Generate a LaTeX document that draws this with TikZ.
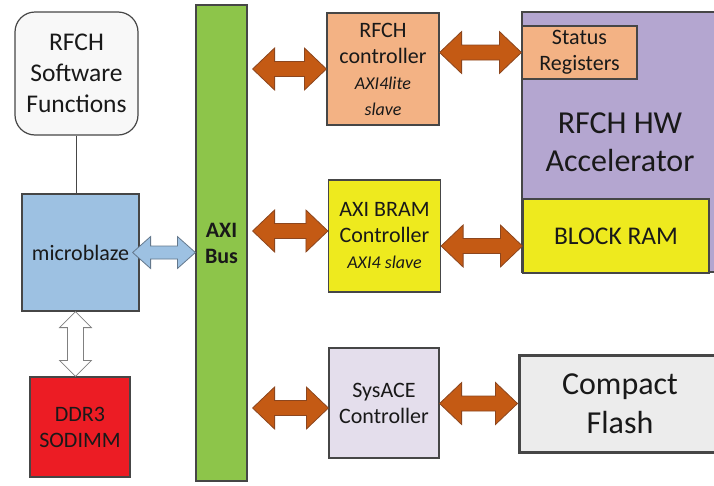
\documentclass[tikz,border=0pt]{standalone}
\usepackage{fontspec}
\setmainfont{Carlito}
\usetikzlibrary{calc}

\definecolor{edge}{RGB}{70,70,70}
\definecolor{swfill}{RGB}{248,248,248}
\definecolor{mbfill}{RGB}{157,193,226}
\definecolor{ddrfill}{RGB}{236,28,36}
\definecolor{busfill}{RGB}{141,197,74}
\definecolor{ctlfill}{RGB}{243,178,132}
\definecolor{bramfill}{RGB}{238,234,30}
\definecolor{hwfill}{RGB}{180,166,208}
\definecolor{sysfill}{RGB}{228,222,236}
\definecolor{cffill}{RGB}{236,236,236}
\definecolor{arrfill}{RGB}{196,90,20}
\definecolor{arredge}{RGB}{140,70,30}
\definecolor{bluedge}{RGB}{100,120,140}

\tikzset{
  blk/.style={draw=edge, line width=1.2pt, align=center, inner sep=0pt,
    text=black!90, font=\fontsize{22}{26}\selectfont},
  link/.style={draw=edge, line width=1.2pt},
  orng/.style={fill=arrfill, draw=arredge, line width=0.8pt,
    /utils/exec={\def\ahl{22pt}\def\ahw{21pt}\def\asw{7.5pt}}},
  blu/.style={fill=mbfill, draw=bluedge, line width=0.8pt,
    /utils/exec={\def\ahl{18pt}\def\ahw{16pt}\def\asw{6.5pt}}},
  wht/.style={fill=white, draw=gray, line width=0.8pt,
    /utils/exec={\def\ahl{16pt}\def\ahw{16pt}\def\asw{8pt}}},
}

% fat double arrows: source gives the x of one tip, target the other tip and the level
\newcommand\hfat[3]{\draw[#1] let \p1=#2, \p2=#3 in
  (\x1,\y2) -- (\x1+\ahl,\y2+\ahw) -- (\x1+\ahl,\y2+\asw) -- (\x2-\ahl,\y2+\asw)
  -- (\x2-\ahl,\y2+\ahw) -- (\x2,\y2) -- (\x2-\ahl,\y2-\ahw) -- (\x2-\ahl,\y2-\asw)
  -- (\x1+\ahl,\y2-\asw) -- (\x1+\ahl,\y2-\ahw) -- cycle;}
\newcommand\vfat[3]{\draw[#1] let \p1=#2, \p2=#3 in
  (\x1,\y1) -- (\x1+\ahw,\y1-\ahl) -- (\x1+\asw,\y1-\ahl) -- (\x1+\asw,\y2+\ahl)
  -- (\x1+\ahw,\y2+\ahl) -- (\x1,\y2) -- (\x1-\ahw,\y2+\ahl) -- (\x1-\asw,\y2+\ahl)
  -- (\x1-\asw,\y1-\ahl) -- (\x1-\ahw,\y1-\ahl) -- cycle;}
\newcommand\itl[1]{{\fontsize{18}{22}\selectfont\itshape #1}}

\begin{document}
\begin{tikzpicture}[x=1pt,y=-1pt]
\useasboundingbox (0,0) rectangle (714,485);
\clip (0,0) rectangle (714,485);
% processor side
\node[blk,rounded corners=20pt,fill=swfill,minimum size=123pt,font=\fontsize{25.5}{31}\selectfont] (sw) at (76.5,73.5) {RFCH\\Software\\Functions};
\node[blk,fill=mbfill,minimum size=117pt] (mb) at (80.5,252.5) {microblaze};
\node[blk,fill=ddrfill,minimum size=100pt] (ddr) at (80,427) {DDR3\\SODIMM};
\node[blk,fill=busfill,minimum width=51pt,minimum height=476pt,font=\fontsize{22}{26}\selectfont\bfseries] (bus) at (221.5,243) {AXI\\Bus};
% slaves
\node[blk,fill=ctlfill,minimum size=112pt] (rc) at (383,69) {RFCH\\controller\\\itl{AXI4lite}\\\itl{slave}};
\node[blk,fill=bramfill,minimum size=112pt] (bctl) at (384.5,236) {AXI BRAM\\Controller\\\itl{AXI4 slave}};
\node[blk,fill=sysfill,minimum size=110pt] (sys) at (384,403) {SysACE\\Controller};
% accelerator and storage
\node[blk,fill=hwfill,minimum width=196pt,minimum height=260pt,font=\fontsize{32}{38}\selectfont] (hw) at (620,142) {RFCH HW\\Accelerator};
\node[blk,fill=ctlfill,minimum width=115pt,minimum height=53pt] (stat) at (579.5,52.5) {Status\\Registers};
\node[blk,fill=bramfill,minimum width=186pt,minimum height=74pt,font=\fontsize{25.5}{30}\selectfont] (bram) at (616,236) {BLOCK RAM};
\node[blk,fill=cffill,line width=3pt,minimum width=202pt,minimum height=97pt,font=\fontsize{32}{39}\selectfont] (cf) at (620,403.5) {Compact\\Flash};

\draw[link] (sw.south) -- (sw.south |- mb.north);
\vfat{wht}{([xshift=-5pt]mb.south)}{(ddr.north)}
\hfat{blu}{([xshift=-7pt]mb.east)}{(bus.west |- mb.east)}
\hfat{orng}{([xshift=5pt]bus.east)}{(rc.west)}
\hfat{orng}{(rc.east)}{(stat.west)}
\hfat{orng}{([xshift=5pt]bus.east)}{([yshift=5pt]bctl.west)}
\hfat{orng}{(bctl.east)}{([yshift=-10pt]bram.west)}
\hfat{orng}{([xshift=5pt]bus.east)}{([yshift=-5pt]sys.west)}
\hfat{orng}{(sys.east)}{(cf.west)}
\end{tikzpicture}
\end{document}
